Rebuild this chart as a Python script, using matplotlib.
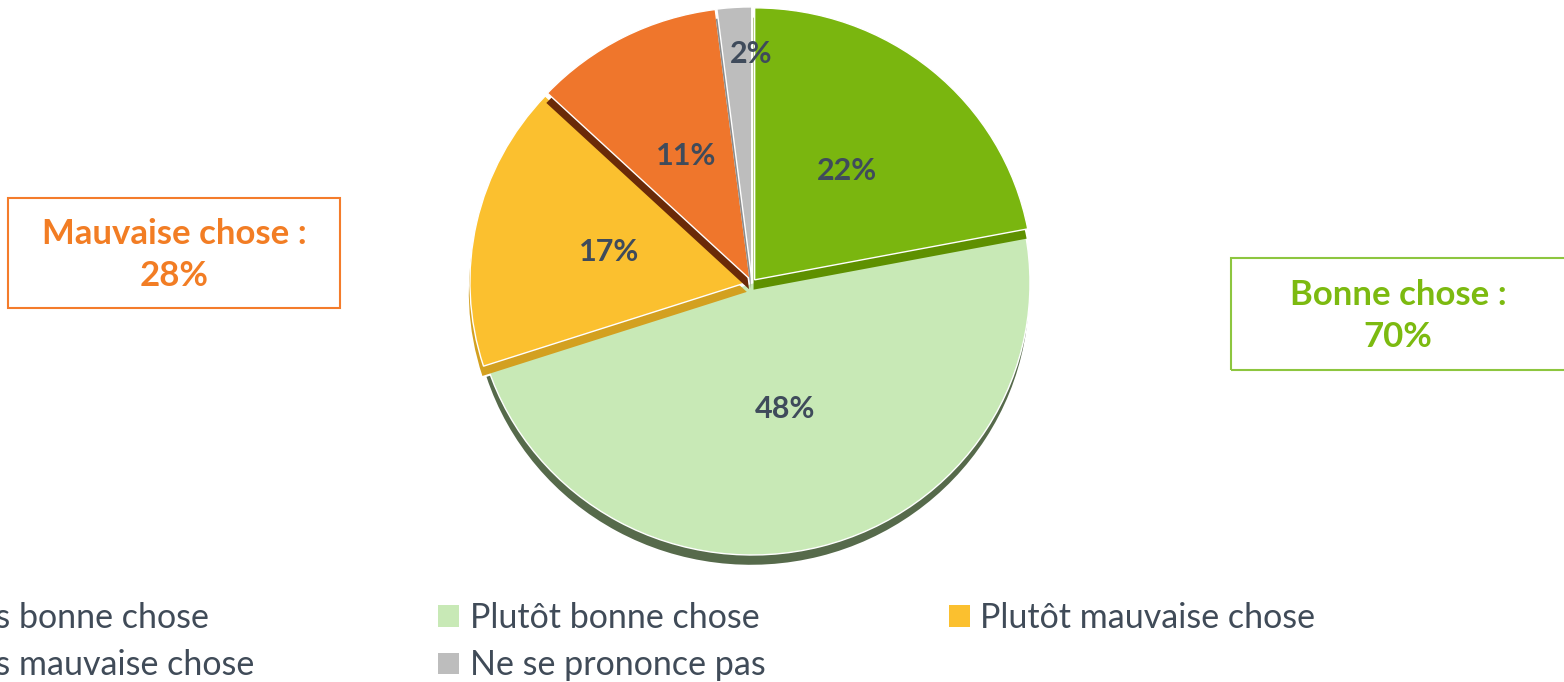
import matplotlib
matplotlib.use("Agg")
import matplotlib.pyplot as plt
from matplotlib.patches import Patch, Rectangle
import numpy as np

# ---- data ----
categories = ["Très bonne chose", "Plutôt bonne chose", "Plutôt mauvaise chose",
              "Très mauvaise chose", "Ne se prononce pas"]
values = [22, 48, 17, 11, 2]
labels_pct = ["22%", "48%", "17%", "11%", "2%"]
colors = ["#7AB60F", "#C8E9B6", "#FBC02F", "#EF762C", "#BDBDBD"]
side_colors = ["#5E9000", "#566A4B", "#D3A020", "#6A2A08", "#8C8C8C"]
explode = [0.015, 0.0, 0.015, 0.015, 0.015]
layer = [5, 1, 2, 3, 4]          # stacking order of the raised slices
mauvaise_label = "Mauvaise chose :\n28%"
bonne_label = "Bonne chose :\n70%"

plt.rcParams['font.family'] = ['Lato', 'DejaVu Sans']

W, H = 1564, 682
fig = plt.figure(figsize=(W / 100, H / 100), dpi=100)
fig.patch.set_facecolor("white")

cx, cy = 752, 283
rx, ry = 278, 272
ax = fig.add_axes([(cx - rx) / W, (H - cy - ry) / H, 2 * rx / W, 2 * ry / H])

# 3D side / thickness layer
sides, _ = ax.pie(values, explode=explode, colors=side_colors, startangle=90,
                  counterclock=False, center=(-0.004, -0.036),
                  wedgeprops=dict(linewidth=0))
wedges, _ = ax.pie(values, explode=explode, colors=colors, startangle=90,
                   counterclock=False,
                   wedgeprops=dict(edgecolor="white", linewidth=1.0))
for s, w, k in zip(sides, wedges, layer):
    s.set_zorder(2 * k)
    w.set_zorder(2 * k + 1)

label_dist = [0.52, 0.48, 0.51, 0.51, 0.83]
label_dx = [0, 0, 0, 0, 14]
for w, lab, d, dx in zip(wedges, labels_pct, label_dist, label_dx):
    th = np.deg2rad((w.theta1 + w.theta2) / 2)
    x0, y0 = w.center
    ax.annotate(lab, (x0 + d * np.cos(th), y0 + d * np.sin(th)),
                xytext=(dx, 0), textcoords="offset pixels",
                ha="center", va="center", fontsize=22, fontweight="bold",
                color="#3F4B5B", zorder=20)

ax.set_aspect("auto")
ax.set_xlim(-1, 1)
ax.set_ylim(-1, 1)
ax.axis("off")

# summary boxes
fig.add_artist(Rectangle((8 / W, (H - 308) / H), 332 / W, 110 / H,
                         transform=fig.transFigure, fill=False,
                         edgecolor="#F47C2B", linewidth=1.5))
fig.text(174 / W, (H - 255) / H, mauvaise_label, ha="center", va="center",
         fontsize=25, fontweight="bold", color="#F27D24", linespacing=1.4)

fig.add_artist(Rectangle((1231 / W, (H - 370) / H), 340 / W, 112 / H,
                         transform=fig.transFigure, fill=False,
                         edgecolor="#8DC63F", linewidth=1.5))
fig.text(1398 / W, (H - 316) / H, bonne_label, ha="center", va="center",
         fontsize=25, fontweight="bold", color="#7CBA10", linespacing=1.4)

# legend (column-wise order)
order = [0, 3, 1, 4, 2]
handles = [Patch(facecolor=colors[i], edgecolor="none") for i in order]
leg_labels = [categories[i] for i in order]
leg = fig.legend(handles, leg_labels, ncol=3, loc="upper left",
                 bbox_to_anchor=(-86 / W, (H - 602) / H), frameon=False,
                 fontsize=24.5, handlelength=0.6, handleheight=0.6,
                 handletextpad=0.32, columnspacing=5.4, borderpad=0,
                 borderaxespad=0, labelspacing=0.45)
for t in leg.get_texts():
    t.set_color("#404B58")

fig.savefig("out.png", dpi=100)
